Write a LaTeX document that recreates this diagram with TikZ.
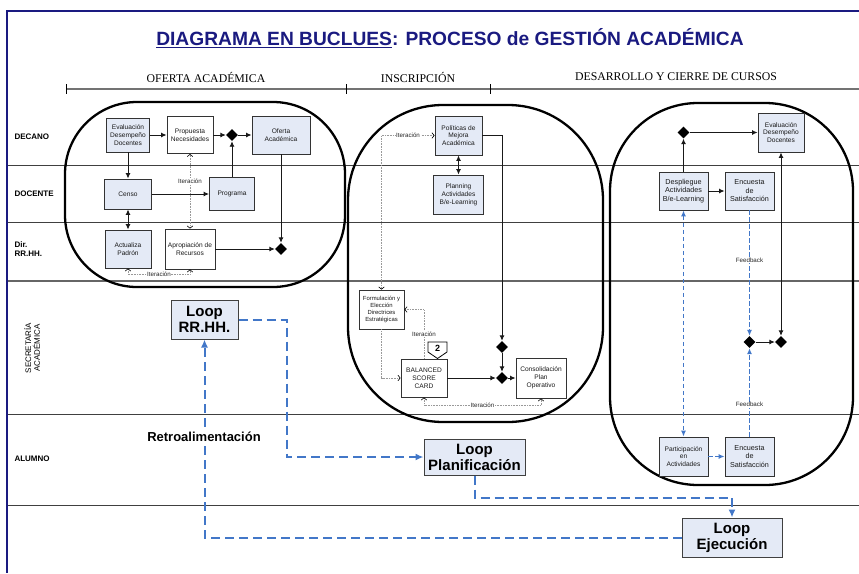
\documentclass[tikz,border=0pt]{standalone}
\usepackage{fontspec}
\setmainfont{Liberation Sans}
\newfontfamily\phasefont{Liberation Serif}
\usetikzlibrary{arrows.meta,shapes.geometric}
\definecolor{boxfill}{HTML}{E4EAF6}
\definecolor{loopblue}{HTML}{4277C8}
\definecolor{navyt}{HTML}{1A1A80}
\begin{document}
\begin{tikzpicture}[x=1pt,y=-1pt,
  ar/.tip={Latex[length=5.5pt,width=5pt]},
  bt/.tip={Latex[length=8pt,width=7pt]},
  st/.tip={Latex[length=6pt,width=5pt]},
  chv/.tip={Straight Barb[length=2.2pt,width=5.5pt,color=black,line width=0.6pt]},
  box/.style={draw=black!80, line width=0.9pt, align=center, inner sep=0.5pt, text=black!90, font=\fontsize{6.6}{7.9}\selectfont},
  fbx/.style={box, fill=boxfill},
  wbx/.style={box, fill=white},
  sz/.style 2 args={minimum width=#1pt, minimum height=#2pt},
  dia/.style={diamond, fill=black, inner sep=0pt, minimum size=12pt},
  flow/.style={black!90, line width=0.9pt, -ar},
  flow2/.style={black!90, line width=0.9pt, ar-ar},
  iter/.style={black!40, densely dotted, line width=0.6pt},
  small/.style={font=\fontsize{6.2}{7}\selectfont, fill=white, inner sep=0.6pt, text=black!85},
  fb/.style={loopblue, line width=1pt, dash pattern=on 4.5pt off 2.5pt},
  loopl/.style={loopblue, line width=2pt, dash pattern=on 9pt off 5pt, -bt},
  loopbox/.style={draw=black!75, line width=1pt, fill=boxfill, align=center, inner sep=1pt, font=\fontsize{15}{16}\selectfont\bfseries},
  lane/.style={font=\fontsize{8}{9.5}\selectfont\bfseries, anchor=west, align=left},
  phase/.style={font=\phasefont\fontsize{11.8}{13}\selectfont},
  oval/.style={line width=2.3pt}
]
\useasboundingbox (0,0) rectangle (859,573);
% frame
\draw[navyt, line width=2pt] (859,11) -- (7,11) -- (7,573);
% lanes
\foreach \yy in {165,222,414,505} \draw[black!75, line width=0.8pt] (8,\yy) -- (859,\yy);
\draw[black!60, line width=1.6pt] (8,281) -- (859,281);
% phase axis
\draw[black!55, line width=1.5pt] (66,89) -- (859,89);
\foreach \xx in {66,346,490} \draw[black, line width=0.7pt] (\xx,84) -- (\xx,94);
\node[phase] (ph1) at (206,77) {OFERTA ACADÉMICA};
\node[phase] (ph2) at (418,77) {INSCRIPCIÓN};
\node[phase] (ph3) at (676,77) {DESARROLLO Y CIERRE DE CURSOS};
% title
\node[font=\fontsize{19.2}{21}\selectfont\bfseries, text=navyt] (title) at (450,38.5) {\underline{DIAGRAMA EN BUCLUES}: PROCESO de GESTIÓN ACADÉMICA};
% lane labels
\node[lane] (ldec) at (11,137) {DECANO};
\node[lane] (ldoc) at (11,194) {DOCENTE};
\node[lane] (lrrhh) at (11,249) {Dir.\\RR.HH.};
\node[rotate=90, align=center, font=\fontsize{8}{8.8}\selectfont] (lsec) at (32,348) {SECRETARÍA\\ACADÉMICA};
\node[lane] (lalu) at (11,459) {ALUMNO};
% ovals
\draw[oval, rounded corners=72pt] (65,102) rectangle (345,287);
\draw[oval, rounded corners=95pt] (348,105) rectangle (603,422);
\draw[oval, rounded corners=88pt] (610,103) rectangle (853,485);
% left group
\node[fbx, sz={43}{34}] (evl) at (128,135) {Evaluación\\Desempeño\\Docentes};
\node[wbx, sz={46}{37}] (prop) at (190,135) {Propuesta\\Necesidades};
\node[dia] (d1) at (232,135) {};
\node[fbx, sz={58}{38}] (ofer) at (281,135) {Oferta\\Académica};
\node[fbx, sz={47}{30}] (censo) at (128,194) {Censo};
\node[fbx, sz={45}{33}] (prog) at (232,194) {Programa};
\node[fbx, sz={46}{38}] (act) at (128,249) {Actualiza\\Padrón};
\node[wbx, sz={50}{40}] (apro) at (190,249) {Apropiación de\\Recursos};
\node[dia] (d2) at (281,249) {};
% middle group
\node[fbx, sz={47}{39}] (pol) at (458.5,135.5) {Políticas de\\Mejora\\Académica};
\node[fbx, sz={50}{39}] (plan) at (458.5,194.5) {Planning\\Actividades\\B/e-Learning};
\node[wbx, sz={45}{39}, font=\fontsize{5.9}{7}\selectfont] (form) at (381.5,309.5) {Formulación y\\Elección\\Directrices\\Estratégicas};
\node[wbx, sz={46}{38}] (bsc) at (424,378) {BALANCED\\SCORE\\CARD};
\node[wbx, sz={50}{40}] (cons) at (541,378) {Consolidación\\Plan\\Operativo};
\node[dia] (d3) at (502,347) {};
\node[dia] (d4) at (502,378) {};
\draw[line width=0.8pt, fill=white] (428,342) -- (447,342) -- (447,352) -- (437.5,358.5) -- (428,352) -- cycle;
\node[font=\fontsize{9}{9}\selectfont\bfseries, inner sep=0pt] (n2) at (437.5,348.5) {2};
% right group
\node[dia] (d5) at (683.5,132.5) {};
\node[fbx, sz={46}{39}] (evl2) at (781,132.5) {Evaluación\\Desempeño\\Docentes};
\node[fbx, sz={49}{38}, font=\fontsize{7.2}{8.5}\selectfont] (desp) at (683.5,191) {Despliegue\\Actividades\\B/e-Learning};
\node[fbx, sz={49}{38}, font=\fontsize{7.2}{8.5}\selectfont] (enc1) at (749.5,191) {Encuesta\\de\\Satisfacción};
\node[dia] (d6) at (749.5,342) {};
\node[dia] (d7) at (781,342) {};
\node[fbx, sz={49}{39}] (part) at (683.5,456.5) {Participación\\en\\Actividades};
\node[fbx, sz={49}{39}, font=\fontsize{7.2}{8.5}\selectfont] (enc2) at (749.5,456.5) {Encuesta\\de\\Satisfacción};
% loops
\node[loopbox, sz={67}{39}] (lrh) at (204.5,319.5) {Loop\\RR.HH.};
\node[loopbox, sz={101}{36}] (lpl) at (474.5,457) {Loop\\Planificación};
\node[loopbox, sz={100}{39}] (lej) at (732,537.5) {Loop\\Ejecución};
% left connectors
\draw[flow] (evl) -- (prop);
\draw[flow] (prop) -- (d1);
\draw[flow] (d1) -- (ofer);
\draw[flow] (prog) -- (d1);
\draw[flow] (evl) -- (censo);
\draw[flow] (censo) -- (prog);
\draw[flow2] (censo) -- (act);
\draw[flow] (ofer) -- (d2);
\draw[flow] (apro) -- (d2);
\draw[iter, chv-chv] (prop) -- node[small, pos=0.36]{Iteración} (apro);
\draw[iter, chv-chv] (act.south) -- ++(0,6) -| node[small, pos=0.25]{Iteración} (apro.south);
% middle connectors
\draw[flow2] (pol) -- (plan);
\draw[flow] (pol.east) -| (d3);
\draw[flow] (d3) -- (d4);
\draw[flow] (bsc) -- (d4);
\draw[flow] (d4) -- (cons);
\draw[iter, chv-chv] (form.north) |- node[small, pos=0.75]{Iteración} (pol.west);
\draw[iter, -chv] (form.south) |- (bsc.west);
\draw[iter, -chv] (bsc.north) |- node[small, pos=0.25]{Iteración} (form.east);
\draw[iter, chv-chv] (bsc.south) -- ++(0,8) -| node[small, pos=0.25]{Iteración} (cons.south);
% right connectors
\draw[flow] (desp) -- (d5);
\draw[flow] (d5) -- (evl2);
\draw[flow] (desp) -- (enc1);
\draw[flow2] (evl2) -- (d7);
\draw[flow] (d6) -- (d7);
\draw[fb, -st] (enc1) -- node[small, pos=0.4]{Feedback} (d6);
\draw[fb, -st] (enc2) -- node[small, pos=0.36]{Feedback} (d6);
\draw[fb, st-st] (desp) -- (part);
\draw[fb, -st] (part) -- (enc2);
% loop connectors
\draw[loopl] (lrh.east) -- ++(48,0) |- (lpl.west);
\draw[loopl] (lpl.south) -- ++(0,22) -| (lej.north);
\draw[loopl] (lej.west) -| (lrh.south);
\node[font=\fontsize{13}{14}\selectfont\bfseries, fill=white, inner sep=1pt] (retro) at (204,437) {Retroalimentación};
\end{tikzpicture}
\end{document}
